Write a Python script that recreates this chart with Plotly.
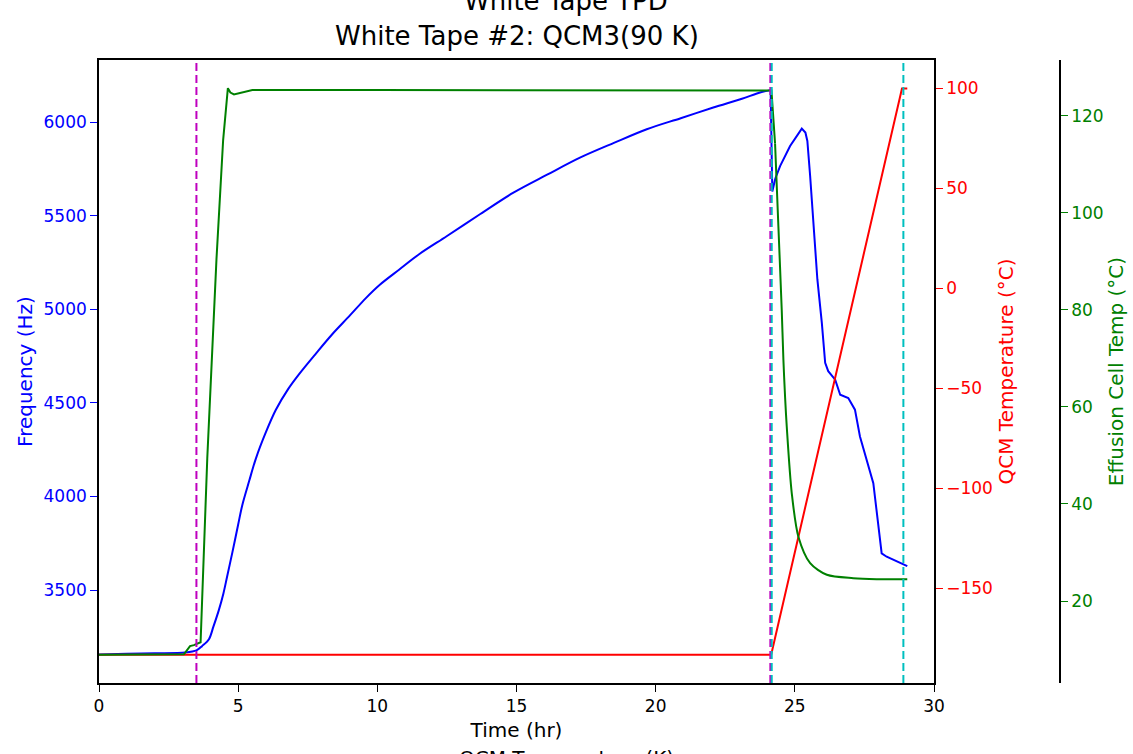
import plotly.graph_objects as go

# ---------------- data ----------------
freq_time = [0.0, 1.0, 2.0, 3.1, 3.5, 3.7, 3.95, 4.11, 4.3, 4.47, 4.6, 4.79, 5.0, 5.15,
             5.4, 5.63, 6.0, 6.35, 6.8, 7.19, 7.8, 8.38, 9.0, 9.58, 10.1, 10.78, 11.5,
             12.49, 13.7, 14.89, 16.1, 17.28, 18.5, 19.68, 20.9, 22.07, 23.1, 23.75,
             24.13, 24.19, 24.3, 24.47, 24.83, 25.1, 25.25, 25.38, 25.45, 25.55, 25.67,
             25.81, 25.97, 26.09, 26.2, 26.45, 26.63, 26.92, 27.16, 27.34, 27.82, 27.94,
             28.12, 28.3, 28.84, 29.04]
freq_hz = [3155, 3159, 3162, 3166, 3177, 3200, 3237, 3304, 3390, 3482, 3570, 3700, 3850, 3955,
           4085, 4200, 4345, 4462, 4575, 4654, 4765, 4867, 4965, 5059, 5133, 5212, 5295,
           5391, 5510, 5624, 5720, 5811, 5890, 5963, 6022, 6079, 6126, 6159,
           6172, 5630, 5700, 5766, 5873, 5935, 5966, 5945, 5900, 5713, 5445,
           5160, 4928, 4714, 4670, 4624, 4544, 4526, 4464, 4321, 4071, 3928,
           3696, 3678, 3643, 3628]

qcm_time = [0.0, 24.15, 28.85, 29.04]
qcm_temp_c = [-183.15, -183.15, 100.0, 100.0]

cell_time = [0.0, 3.05, 3.27, 3.41, 3.65, 3.89, 4.22, 4.46, 4.63, 4.72, 4.85, 5.1, 5.51,
             10.0, 15.0, 20.0, 24.16, 24.29, 24.41, 24.53, 24.59, 24.65, 24.71, 24.89,
             25.13, 25.55, 26.15, 27.1, 27.94, 29.04]
cell_temp_c = [8.9, 9.0, 10.7, 10.9, 11.5, 49.4, 90.4, 115.0, 125.7, 124.8, 124.4, 124.8, 125.3,
               125.3, 125.3, 125.3, 125.2, 114.3, 97.1, 79.9, 69.6, 62.0, 55.9, 42.2,
               33.2, 27.8, 25.4, 24.7, 24.5, 24.5]

vline_x = [3.5, 24.12, 24.17, 28.9]
vline_colors = ["#bf00bf", "#bf00bf", "#00bfbf", "#00bfbf"]

title_text = "White Tape #2: QCM3(90 K)"
ghost_title = "White Tape TPD"
ghost_xlabel = "QCM Temperature (K)"

# ---------------- figure ----------------
FONT = "DejaVu Sans"
W, H = 1133, 754
ML, MR, MT, MB = 99, 73, 60, 71
plot_w = W - ML - MR
x_end = (934 - ML) / plot_w

BLUE, RED, GREEN = "#0000ff", "#ff0000", "#008000"

# frequency: smooth part up to the peak, then the desorption part as drawn
k = freq_time.index(24.13)
fig = go.Figure()
fig.add_trace(go.Scatter(x=freq_time[:k + 1], y=freq_hz[:k + 1], mode="lines",
                         line=dict(color=BLUE, width=2, shape="spline", smoothing=0.9),
                         yaxis="y", showlegend=False))
fig.add_trace(go.Scatter(x=freq_time[k:], y=freq_hz[k:], mode="lines",
                         line=dict(color=BLUE, width=2), yaxis="y", showlegend=False))
fig.add_trace(go.Scatter(x=qcm_time, y=qcm_temp_c, mode="lines",
                         line=dict(color=RED, width=2), yaxis="y2", showlegend=False))
g = cell_time.index(24.29)
fig.add_trace(go.Scatter(x=cell_time[:g + 1], y=cell_temp_c[:g + 1], mode="lines",
                         line=dict(color=GREEN, width=2), yaxis="y3", showlegend=False))
fig.add_trace(go.Scatter(x=cell_time[g:], y=cell_temp_c[g:], mode="lines",
                         line=dict(color=GREEN, width=2, shape="spline", smoothing=0.8),
                         yaxis="y3", showlegend=False))

for xv, col in zip(vline_x, vline_colors):
    fig.add_shape(type="line", xref="x", yref="paper", x0=xv, x1=xv, y0=0, y1=1,
                  line=dict(color=col, width=2, dash="8px,4px"), layer="above")

fig.update_layout(
    width=W, height=H,
    margin=dict(l=ML, r=MR, t=MT, b=MB, pad=0),
    paper_bgcolor="white", plot_bgcolor="white",
    font=dict(family=FONT, color="black"),
    xaxis=dict(domain=[0, x_end], range=[0, 30], tickvals=[0, 5, 10, 15, 20, 25, 30],
               showgrid=False, zeroline=False, showline=True, linecolor="black",
               linewidth=1.6, mirror=True, ticks="outside", ticklen=7, tickcolor="black",
               tickwidth=1.3, tickfont=dict(family=FONT, size=17, color="black"),
               title=dict(text="Time (hr)", font=dict(family=FONT, size=20, color="black"),
                          standoff=8),
               automargin=False),
    yaxis=dict(range=[3003, 6333], tickvals=[3500, 4000, 4500, 5000, 5500, 6000],
               showgrid=False, zeroline=False, showline=True, linecolor="black",
               linewidth=1.6, ticks="outside", ticklen=7, tickcolor=BLUE, tickwidth=1.3,
               tickfont=dict(family=FONT, size=17, color=BLUE),
               title=dict(text="Frequency (Hz)", font=dict(family=FONT, size=20, color=BLUE),
                          standoff=6),
               automargin=False),
    yaxis2=dict(range=[-197.3, 114.2], tickvals=[-150, -100, -50, 0, 50, 100],
                overlaying="y", side="right", anchor="x",
                showgrid=False, zeroline=False, showline=True, linecolor="black",
                linewidth=1.6, ticks="outside", ticklen=7, tickcolor=RED, tickwidth=1.3,
                tickfont=dict(family=FONT, size=17, color=RED),
                title=dict(text="QCM Temperature (°C)",
                           font=dict(family=FONT, size=20, color=RED), standoff=7),
                automargin=False),
    yaxis3=dict(range=[3.1, 131.5], tickvals=[20, 40, 60, 80, 100, 120],
                overlaying="y", side="right", anchor="free", position=1.0,
                showgrid=False, zeroline=False, showline=True, linecolor="black",
                linewidth=1.6, ticks="outside", ticklen=7, tickcolor=GREEN, tickwidth=1.3,
                tickfont=dict(family=FONT, size=17, color=GREEN),
                title=dict(text="Effusion Cell Temp (°C)",
                           font=dict(family=FONT, size=20, color=GREEN), standoff=5),
                automargin=False),
)

def px_x(px):
    return (px - ML) / plot_w

def px_y(py):
    return 1 - (py - MT) / (H - MT - MB)

fig.add_annotation(text=title_text, xref="paper", yref="paper", x=px_x(516.5), y=px_y(36),
                   xanchor="center", yanchor="middle", showarrow=False,
                   font=dict(family=FONT, size=26, color="black"))
fig.add_annotation(text=ghost_title, xref="paper", yref="paper", x=px_x(565.5), y=px_y(1),
                   xanchor="center", yanchor="middle", showarrow=False,
                   font=dict(family=FONT, size=26, color="black"))
fig.add_annotation(text=ghost_xlabel, xref="paper", yref="paper", x=px_x(566), y=px_y(758),
                   xanchor="center", yanchor="middle", showarrow=False,
                   font=dict(family=FONT, size=20, color="black"))

fig.write_html("out.html", config={"displayModeBar": False},
               post_script="document.body.style.margin='0';document.body.style.overflow='hidden';")
